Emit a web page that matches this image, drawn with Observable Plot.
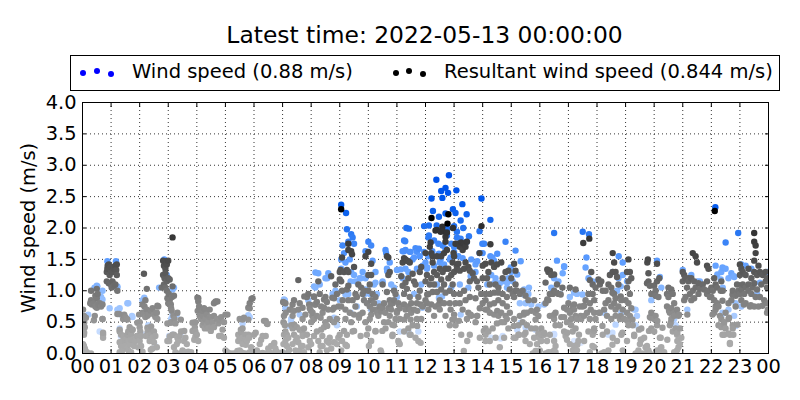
<!DOCTYPE html>
<html>
<head>
<meta charset="utf-8">
<script src="https://cdn.jsdelivr.net/npm/d3@7"></script>
<script src="https://cdn.jsdelivr.net/npm/@observablehq/plot@0.6"></script>
<style>
html,body{margin:0;padding:0;background:#fff;width:800px;height:400px;overflow:hidden;font-family:"DejaVu Sans",sans-serif;color:#000}
#head{position:relative;width:800px;height:92px}
#title{position:absolute;left:0;top:20px;width:849px;text-align:center;font-size:23.4px;line-height:30px;white-space:nowrap}
#box{position:absolute;left:70px;top:55px;width:708px;height:34px;border:1px solid #000;box-sizing:content-box}
.lab{position:absolute;top:59px;font-size:19.5px;line-height:26px;white-space:nowrap}
.d{position:absolute;width:6px;height:6px;border-radius:50%}
svg{display:block}
</style>
</head>
<body>
<div id="head"></div>
<div id="chart"></div>
<script>
const chartTitle = "Latest time: 2022-05-13 00:00:00";
const legendLabels = ["Wind speed (0.88 m/s)", "Resultant wind speed (0.844 m/s)"];
const hourTicks = d3.range(0, 25);
const speedTicks = [0, .5, 1, 1.5, 2, 2.5, 3, 3.5, 4];

// [hour of day, wind speed m/s]
const windSpeed = [
[.5,1.08],[.42,1.05],[.7,1.0],[.65,.9],[.95,.72],[1.22,1.07],[1.3,.72],[1.35,.62],[1.6,.8],[1.75,.58],[1.3,.4],[1.35,.2],[.2,.62],[.6,.35],
[2.1,.85],[2.35,.65],[2.3,.45],[2.15,.3],[2.55,.12],[2.95,1.25],[3.2,1.05],[3.1,.55],[3.15,.3],[3.3,.62],[5.85,.58],[5.6,.48],
[.52,1.07],[1.22,1.05],[1.22,.7],[1.57,.8],[1.73,.6],[2.16,.89],[2.22,.68],[3.15,1.02],[3.15,.61],[3.03,.28],[3.44,.28],[5.8,.61],[7.05,.86],[7.29,.52],[7.23,.44],[1.34,.28],[2.5,.3],[.7,.86],[2.68,1.05],[.87,1.47],[1.17,1.47],[2.86,1.5],
[7.08,.85],[7.1,.72],[7.3,.55],[7.6,.62],[7.9,.85],[8.15,1.05],[8.25,1.28],[8.3,1.1],[8.5,1.2],[8.6,1.28],[8.75,.95],[8.85,1.0],[9.0,.85],[8.9,.45],
[8.15,1.29],[8.56,1.2],[8.1,1.07],[9.38,1.15],[9.73,1.2],[10.49,1.13],[10.66,1.31],[11.13,1.34],[11.6,1.53],[12.06,1.37],[12.53,1.5],[12.88,1.53],[13.81,1.47],[14.34,1.53],[14.98,1.37],[15.21,1.26],[14.16,1.1],[14.51,1.1],[14.86,1.13],[15.33,1.47],[13.58,1.23],[15.62,1.05],[15.44,.94],[9.38,.65],[8.8,.57],[9.2,.94],[12.58,.91],[9.85,.94],[12.47,.89],[11.89,.73],[13.23,.62],[15.21,.38],[15.5,.41],[15.85,.38],[11.42,.33],[14.63,.24],[15.33,.49],
[9.05,2.37],[9.22,2.24],[9.25,1.98],[9.4,1.9],[9.45,1.85],[9.5,1.75],[9.1,1.72],[9.3,1.78],[9.9,1.63],[10.0,1.78],[10.1,1.72],[9.05,1.5],[9.2,1.45],[9.35,1.5],[9.15,1.6],[9.05,1.35],[9.4,1.3],[9.5,1.25],[9.7,1.2],[9.9,1.2],[10.15,1.48],[10.25,1.3],[9.8,1.3],[9.55,1.15],[9.3,.95],[9.6,.75],[9.9,1.02],[10.05,.95],[10.2,1.1],[10.25,1.13],[10.1,.7],[10.3,.95],[10.35,.8],
[10.5,1.15],[10.6,1.65],[10.62,1.6],[10.75,1.45],[10.65,1.35],[10.8,1.1],[10.9,1.05],[11.0,.9],[11.0,1.33],[11.33,2.0],[11.25,1.8],[11.2,1.63],[11.3,1.65],[11.45,1.62],[11.65,1.68],[11.7,1.62],[11.55,1.5],[11.7,1.35],[11.8,1.55],[11.3,1.35],[11.4,1.3],[11.9,1.4],[11.2,1.2],[11.6,.95],[11.85,1.1],[11.1,.35],[11.75,.35],
[12.38,2.77],[12.82,2.84],[12.7,2.64],[12.55,2.59],[12.79,2.56],[13.08,2.6],[12.21,2.47],[12.59,2.48],[13.96,2.47],[13.29,2.38],[12.96,2.3],[13.05,2.24],[13.44,2.22],[12.26,2.27],[12.47,2.18],[12.7,2.23],[13.23,2.12],[14.27,2.13],[11.42,1.99],[11.95,2.03],[12.12,2.04],[12.39,2.04],[13.0,2.03],[13.32,2.0],[11.29,1.79],[13.89,1.95],[13.52,1.87],[14.8,1.78],[14.51,1.59],[15.15,1.64],[13.23,1.83],[13.44,1.78],[13.89,1.6],[14.27,1.55],[13.99,1.75],[11.95,1.62],[12.24,1.63],[12.47,1.59],[12.7,1.67],[13,1.62],[11.77,1.67],[11.25,1.63],[11.48,1.62],[12.12,1.88],[13.1,1.94],[12.76,1.99],
[12.1,1.85],[12.3,1.8],[12.45,1.75],[12.6,1.72],[12.75,1.88],[12.9,1.75],[13.1,1.85],[12.0,1.45],[12.1,1.55],[12.3,1.4],[12.5,1.45],[12.65,1.42],[12.85,1.5],[13.0,1.7],[13.15,1.55],[13.3,1.52],[13.6,1.5],[13.75,1.42],[12.05,1.35],[12.4,1.1],[12.9,1.05],[13.2,1.1],[13.5,1.05],
[14.05,1.75],[14.0,1.6],[14.4,1.48],[13.75,1.3],[14.3,1.25],[14.45,1.2],[14.6,1.12],[14.4,1.12],[14.75,1.15],[14.9,1.2],[15.0,1.3],[14.85,1.05],[15.05,1.15],[15.45,1.02],[15.5,.8],[15.3,.8],[15.7,.78],[15.95,.75],[15.6,.95],[14.3,.25],[14.7,.28],
[16.1,.3],[16.5,.3],[16.5,1.92],[16.6,1.48],[16.85,1.38],[16.8,1.28],[16.5,1.2],[16.4,1.05],[16.65,1.15],[17.05,.9],[17.3,.95],[17.2,.2],[16.7,.95],[17.63,1.53],[17.5,1.94],[17.72,1.9],[17.6,1.37],[17.85,1.15],[17.7,1.2],[18.25,.65],[18.4,.3],
[18.65,.46],[18.54,.33],[16.5,.31],[17.43,.17],[19.18,.57],[19.35,.7],[21.16,.7],[22.85,.44],[17.2,.97],[17.49,.94],[16.15,.78],[18.83,1.07],[16.85,1.39],[22.79,1.23],[22.33,1.18],[22.39,.65],[22.21,1.26],[22.39,1.37],[21.51,1.15],[23.7,1.13],
[18.55,1.3],[18.76,1.55],[18.9,1.45],[18.75,1.2],[18.9,1.25],[18.7,1.0],[18.85,.65],[19.05,1.15],[19.3,.7],[19.4,.6],[19.35,.45],[20.1,1.48],[20.2,1.22],[20.25,1.05],[19.9,.85],[20.7,.55],[20.75,.45],
[21.0,1.33],[21.3,1.25],[21.6,1.15],[22.14,2.33],[22.5,1.77],[22.94,1.92],[22.15,1.4],[22.5,1.35],[22.35,1.3],[22.6,1.2],[22.4,1.05],[22.7,1.28],[22.8,1.22],[22.6,.7],[22.8,.6],[22.35,.6],[22.85,.8],[23.05,1.42],[23.2,1.4],[23.4,1.35],[23.95,1.3],[23.6,.95],[23.05,.75]
];

// [hour of day, resultant wind speed m/s]
const resultantSpeed = [
[.02,.7],[.05,.6],[.03,.55],[.06,.5],[.02,.45],[.08,.42],[.03,.35],[.05,.3],[.02,.15],[.05,.12],[.08,.08],[.1,.05],[.15,.02],[.2,0],[.3,0],[.03,0],[.3,1.0],[.5,1.03],[.53,.95],[.45,.92],[.3,.85],[.27,.8],[.33,.78],[.4,.8],[.45,.75],[.5,.73],[.55,.78],[.6,.8],[.65,.75],[.7,.78],[.43,.6],[.4,.53],[.5,.88],[.7,.55],[.72,.3],[.72,.25],
[.85,1.3],[.88,1.4],[.92,1.42],[.87,1.35],[.85,1.15],[.92,1.12],[.95,1.25],[1.0,1.3],[1.0,1.1],[1.05,1.15],[1.02,1.05],[1.05,1.3],[1.1,1.35],[1.15,1.4],[1.2,1.42],[1.18,1.33],[1.2,1.25],[1.15,1.1],[1.1,1.08],[1.22,1.0],[.95,1.36],[1.0,1.38],
[1.28,.63],[1.3,.35],[1.35,.3],[1.3,.18],[1.35,.12],[1.4,.05],[1.3,.02],[1.42,.55],[1.45,.6],[1.5,.58],[1.55,.55],[1.55,.25],[1.5,.22],[1.45,.28],[1.4,.2],[1.6,.2],[1.65,.15],[1.6,.35],[1.7,.3],[1.65,.42],[1.75,.38],[1.5,.12],[1.6,.05],[1.7,.02],[1.8,.12],[1.85,.2],[1.9,.28],[1.95,.1],[1.75,.22],
[.12,.57],[.06,.33],[.72,.33],[.7,.55],[1.22,.63],[1.46,.62],[1.57,.54],[1.3,.38],[1.75,.38],[1.57,.3],[1.34,.17],[1.69,.22],[1.57,.09],[1.98,.62],[2.1,.78],[2.27,.6],[2.39,.68],[2.62,.76],[2.57,.65],[1.92,.49],[2.27,.41],[2.45,.3],[2.22,.28],[1.98,.28],[2.39,.06],[3.09,.78],[3.09,.49],[3.32,.65],[3.44,.54],[3.56,.36],[3.32,.25],[3.03,.2],[3.2,.3],[3.85,.49],[3.85,.36],[3.91,.22],[4.02,.89],[4.08,.7],[4.66,.83],[4.6,.8],[4.49,.36],[4.78,.28],[5.07,.62],[5.6,.54],[5.8,.73],[5.91,.87],[5.8,.54],[5.54,.38],[5.6,.25],[5.83,.25],[6.06,.33],[5.71,.14],[5.42,.04],[6.41,.52],[6.47,.47],[6.41,.28],[6.71,.17],[7.05,.81],[7.11,.65],[7.05,.3],[7.29,.7],[7.41,.46],[7.76,.91],[7.7,.73],[7.93,.78],[7.7,.33],[7.46,.2],[7.7,.12],[7.23,.06],[7.99,.68],
[2.0,.5],[2.0,.42],[2.02,.35],[2.05,.28],[2.0,.2],[2.05,.12],[2.1,.03],[2.15,.62],[2.1,.65],[2.2,.58],[2.17,.75],[2.15,1.27],[2.25,1.03],[2.2,.85],[2.25,.7],[2.3,.62],[2.28,.35],[2.3,.28],[2.35,.2],[2.4,.3],[2.45,.25],[2.5,.18],[2.5,.35],[2.4,.43],[2.35,.38],[2.45,.72],[2.5,.62],[2.55,.58],[2.6,.65],[2.62,.55],[2.65,.75],[2.55,.28],[2.6,.1],[2.45,.08],
[2.77,1.05],[2.82,1.48],[2.88,1.47],[2.95,1.42],[3.0,1.48],[2.85,1.4],[2.9,1.35],[2.9,1.28],[2.87,1.2],[2.82,1.25],[2.85,1.1],[2.95,1.15],[3.0,1.2],[3.05,1.18],[2.9,1.05],[2.95,1.0],[3.15,1.07],[3.15,1.85],[2.97,.88],[3.02,.95],[3.05,.85],[3.13,.9],[3.2,.92],[3.0,.8],[3.05,.78],[3.1,.72],[3.12,.68],[3.18,.6],[3.22,.55],[3.25,.48],[2.97,.48],[3.1,.5],[3.15,.3],[3.05,.27],[2.97,.2],[3.2,.1],[3.3,.15],[3.35,.2],[3.4,.28],[3.45,.35],[3.25,.02],[3.4,0],[3.5,.05],[3.6,.02],[3.7,.03],[3.8,.02],[3.55,.2],[3.6,.25],[3.65,.15],
[3.95,.5],[3.93,.42],[3.95,.35],[3.95,.27],[4.0,.3],[4.05,.2],[4.05,.88],[4.05,.83],[4.08,.75],[4.03,.68],[4.1,.6],[4.15,.55],[4.2,.6],[4.2,.68],[4.25,.72],[4.3,.7],[4.35,.62],[4.3,.55],[4.25,.5],[4.2,.45],[4.35,.45],[4.4,.5],[4.45,.58],[4.45,.7],[4.5,.58],[4.55,.5],[4.5,.42],[4.6,.42],[4.65,.82],[4.72,.83],[4.7,.55],[4.75,.48],[4.8,.53],[4.85,.58],[4.95,.5],[4.9,.38],[4.85,.28],[5.0,.62],[4.95,.25],[4.6,.6],[4.4,.4],[4.28,.4],
[5.0,.05],[5.05,.03],[5.1,.01],[5.2,0],[5.3,0],[5.35,0],[5.45,.2],[5.5,.27],[5.45,.3],[5.5,.55],[5.65,.57],[5.6,.4],[5.55,.33],[5.7,.3],[5.75,.2],[5.6,.15],[5.55,.22],[5.7,.22],[5.8,.3],[5.5,.05],[5.55,.02],[5.6,.01],[5.7,0],[5.85,.72],[5.85,.8],[5.95,.88],[5.85,.02],[5.95,0],[5.9,.1],[6.0,.3],
[6.05,.02],[6.1,.05],[6.2,.15],[6.25,.22],[6.3,.28],[6.35,.52],[6.45,.48],[6.1,0],[6.2,0],[6.3,.01],[6.4,0],[6.5,.08],[6.6,.12],[6.7,.15],[6.75,.08],[6.55,.02],[6.65,0],[6.8,.03],[6.9,0],[7.0,.02],
[7.02,.82],[7.1,.8],[7.05,.6],[7.03,.5],[7.08,.45],[7.1,.35],[7.15,.3],[7.2,.25],[7.1,.2],[7.03,.15],[7.15,.12],[7.22,.05],[7.05,0],[7.55,1.17],[7.6,.8],[7.4,.85],[7.35,.78],[7.25,.7],[7.35,.6],[7.4,.68],[7.55,.7],[7.3,.45],[7.35,.4],[7.4,.3],[7.5,.42],[7.5,.25],[7.55,.18],[7.6,.38],[7.65,.12],[7.7,.28],[7.75,.4],[7.7,.55],[7.8,.62],[7.85,.9],[7.9,.95],[7.95,.72],[7.85,.3],[7.95,.2],[7.9,.1],[7.75,.02],[7.6,.05],[7.35,.15],[7.45,.05],
[8.1,.9],[8.13,.78],[8.05,.65],[8.0,.5],[8.1,.55],[8.2,.82],[8.2,.6],[8.25,1.15],[8.3,.95],[8.35,.75],[8.4,.65],[8.5,.9],[8.55,.82],[8.6,.7],[8.7,1.23],[8.75,.7],[8.8,.88],[8.85,1.1],[8.9,.95],[8.95,.75],[8.9,.55],[8.8,.5],[8.65,.55],[8.5,.5],[8.45,.42],[8.35,.38],[8.2,.35],[8.25,.2],[8.1,.28],[8.0,.15],[8.4,.12],[8.55,.2],[8.65,.25],[8.8,.18],[8.9,.15],[8.95,.25],[8.7,.08],[8.55,.05],[8.3,.02],
[8.1,.91],[8.45,.86],[8.74,.89],[8.15,.78],[8.45,.73],[8.8,.73],[9.2,.7],[9.5,.62],[9.67,.57],[8.33,.57],[8.04,.6],[8.56,.44],[9.15,.36],[9.73,.28],[9.5,.36],[8.39,.28],[8.62,.17],[9.2,.14],[8.33,.12],[10.02,.12],[10.43,.05],[10.25,.36],[10.84,.28],[11.07,.17],[11.48,.3],[11.83,.17],[11.71,.44],[11.25,.54],[11.48,.54],[10.84,.46],[10.49,.36],[10.31,.65],[10.49,.73],[10.78,.78],[11.01,.68],[11.25,.78],[11.48,.7],[11.83,.78],[11.71,.68],[12.06,.94],[12.47,.78],[12.88,.7],[12.94,.54],[13.17,.52],[13.46,.2],[13.34,.04],[14.04,.36],[14.1,.2],[13.58,.62],[13.81,.6],[14.16,.7],[14.51,.68],[15.09,.44],[15.27,.3],[15.09,.25],[15.44,.62],[15.85,.54],[15.85,.04],[15.5,.33],[16.03,.22],
[9.05,2.3],[9.03,1.33],[9.0,1.18],[9.05,1.15],[9.0,1.3],[9.08,1.53],[9.08,1.0],[9.15,1.3],[9.1,.85],[9.05,.75],[9.25,1.33],[9.3,1.3],[9.3,1.75],[9.3,1.65],[9.4,1.63],[9.43,1.58],[9.3,1.08],[9.25,1.02],[9.3,.85],[9.35,.65],[9.4,.5],[9.2,.55],[9.25,.3],[9.45,.35],[9.5,1.38],[9.45,.85],[9.55,.95],[9.6,.9],[9.55,.75],[9.65,1.1],[9.75,1.05],[9.8,.95],[9.7,.62],[9.8,.65],[9.85,.85],[9.9,1.55],[9.85,1.0],[9.95,.8],[9.9,.5],[9.05,.05],[9.0,.3],[9.08,.2],[9.25,.12],
[10.0,1.62],[10.1,1.43],[10.0,1.25],[10.1,1.25],[10.05,1.1],[10.0,1.0],[10.15,.95],[10.1,.85],[10.05,.75],[10.2,.8],[10.15,.7],[10.1,.62],[10.25,.9],[10.05,.55],[10.0,.4],[9.95,.3],[10.1,.2],[10.25,.35],[10.3,.7],[10.35,.6],[10.4,.75],[10.45,.67],[10.5,1.1],[10.55,.8],[10.6,.65],[10.65,1.55],[10.7,1.53],[10.7,1.25],[10.75,1.3],[10.65,.98],[10.7,.72],[10.75,.85],[10.8,.7],[10.85,.8],[10.9,.85],[10.6,.4],[10.55,.5],[10.7,.5],[10.75,.6],[10.9,1.0],[10.95,.95],[10.85,.3],[10.45,.02],[10.9,.45],[10.95,.55],
[11.0,.65],[11.05,.8],[11.1,.72],[11.1,.55],[11.05,.2],[11.1,.15],[11.15,1.23],[11.2,1.45],[11.25,1.52],[11.3,1.5],[11.35,1.48],[11.4,1.47],[11.45,1.45],[11.2,1.08],[11.25,.95],[11.3,1.13],[11.35,1.03],[11.4,1.2],[11.45,.9],[11.55,1.27],[11.6,1.15],[11.65,1.1],[11.5,.8],[11.3,.7],[11.35,.6],[11.4,.75],[11.5,.65],[11.6,.7],[11.7,.8],[11.75,.9],[11.8,1.0],[11.8,1.3],[11.85,1.38],[11.7,.55],[11.85,.55],[11.9,.75],[11.25,.35],[11.4,.4],[11.45,.3],[11.55,.45],[11.65,.25],[11.75,.2],
[12.21,2.16],[12.8,2.22],[12.77,2.07],[12.96,2.0],[12.59,2.02],[13.96,2.03],[12.35,1.96],[12.53,1.94],[12.7,1.86],[12.4,1.97],[12.6,1.95],[12.75,1.93],[12.7,1.78],[12.18,1.77],[13.05,1.75],[12.15,1.7],[12.0,1.6],[12.2,1.6],[12.25,1.55],[12.25,1.45],[12.4,1.55],[12.55,1.55],[12.65,1.6],[12.75,1.65],[12.98,1.6],[13.0,1.55],[12.95,1.45],[13.1,1.42],[13.15,1.43],[13.2,1.7],[13.25,1.77],[13.35,1.75],[13.3,1.65],[13.15,1.75],[13.45,1.78],[13.4,1.7],[13.4,1.45],[13.35,1.35],[13.5,1.38],[13.55,1.32],[13.65,1.28],[13.55,1.15],[13.7,1.2],[13.8,1.15],[13.85,1.05],[14.0,1.2],[14.0,1.4],[13.89,1.6],[14.27,1.74],
[12.0,1.15],[12.05,1.25],[12.15,1.1],[12.2,1.2],[12.3,1.3],[12.4,1.25],[12.5,1.35],[12.6,1.3],[12.7,1.35],[12.8,1.35],[12.9,1.25],[13.0,1.3],[13.1,1.35],[13.2,1.32],[12.3,1.1],[12.55,1.18],[12.65,1.1],[12.8,1.2],[12.95,1.1],[12.0,.85],[12.1,.95],[12.25,.98],[12.4,.98],[12.55,1.02],[12.7,.97],[12.85,1.0],[13.0,.95],[13.2,.95],[13.35,1.0],[12.05,.8],[12.2,.78],[12.35,.75],[12.5,.85],[12.65,.8],[12.85,.8],[13.05,.8],[13.2,.8],[13.4,.85],[13.55,.9],[13.75,.88],[13.95,.95],[14.0,.8],[12.1,.7],[12.3,.6],[12.5,.7],[12.7,.6],[13.0,.62],[13.0,.55],[13.3,.7],[13.5,.65],[13.6,.6],[13.8,.6],[13.9,.72],[13.05,.45],[13.25,.3],[13.55,.3],[13.9,.25],[13.45,.55],[13.75,.5],[12.85,.45],
[14.1,1.43],[14.2,1.3],[14.3,1.45],[14.4,1.38],[14.5,1.42],[14.65,1.45],[14.7,1.2],[14.8,1.3],[14.9,1.32],[14.95,1.02],[14.15,1.2],[14.25,1.1],[14.45,1.1],[14.55,1.05],[15.05,.95],[15.1,.9],[15.15,1.0],[14.1,.95],[14.25,.95],[14.4,.97],[14.55,.97],[14.7,.95],[14.85,.9],[14.1,.85],[14.25,.78],[14.4,.8],[14.55,.85],[14.7,.8],[14.85,.75],[14.95,.65],[14.1,.7],[14.25,.65],[14.4,.62],[14.55,.6],[14.65,.65],[14.8,.6],[14.5,.48],[14.65,.5],[14.85,.55],[14.1,.4],[14.2,.35],[14.35,.4],[14.45,.25],[14.1,.3],[14.25,.2],[14.6,.1],[14.75,.5],[14.9,.4],[14.75,.25],
[15.0,1.2],[15.1,1.43],[15.15,1.32],[15.2,1.0],[15.15,1.1],[15.3,.95],[15.4,1.0],[15.5,.92],[15.6,.85],[15.8,.85],[15.9,.7],[15.1,.55],[15.3,.6],[15.45,.65],[15.55,.65],[15.7,.68],[15.85,.65],[15.95,.6],[15.25,.45],[15.4,.5],[15.55,.45],[15.25,.3],[15.15,.25],[15.45,.3],[15.5,.2],[15.7,.4],[15.85,.4],[15.95,.32],[15.8,.25],[15.65,.15],[15.9,.15],[16.0,.05],[15.75,0],
[16.05,.4],[16.05,.3],[16.05,.2],[16.0,.25],[16.2,.8],[16.3,.85],[16.35,.6],[16.45,.6],[16.5,.55],[16.55,.45],[16.55,.65],[16.3,1.3],[16.35,1.32],[16.4,1.25],[16.5,1.0],[16.6,1.1],[16.45,.95],[16.35,.95],[16.65,.95],[16.75,.58],[16.85,.58],[16.7,.45],[16.85,.35],[16.9,.28],[16.95,.5],[16.95,.7],[16.95,.22],[16.2,0],[16.3,.02],[16.4,.02],[16.5,.05],[16.55,.12],[16.55,.02],[16.25,.2],[16.35,.3],[16.15,.3],
[16.26,1.34],[16.5,1.26],[16.2,1.13],[16.79,1.05],[17.25,1.02],[16.73,.94],[16.55,.97],[16.26,.86],[16.85,.73],[16.5,.62],[17.2,.78],[17.08,.68],[17.55,.76],[17.78,.7],[17.43,.6],[18.07,.65],[16.15,.33],[16.5,.2],[16.96,.33],[17.37,.3],[17.31,.14],[17.84,.12],[17.9,.36],[18.19,.44],[18.54,.14],[18.89,.33],[18.54,.97],[18.83,.91],[18.65,.7],[18.83,.6],[19.06,.52],[19.24,.54],[19.47,.38],[19.53,.22],[19.3,.28],[19.88,.57],[20.11,.52],[20.29,.41],[19.82,.36],[20.23,.25],[20.58,.49],[20.81,.33],[20.46,.22],[20.81,.2],[20.7,.65],[21.16,.62],[20.87,.62],[20.52,.68],[20.23,.09],[22.04,.62],[22.15,.7],[22.39,.84],[22.33,1.0],[22.74,.94],[22.39,.3],[22.77,.3],[22.65,.17],[22.91,.46],[22.44,.46],[22.62,.57],[23.14,.78],[23.38,.77],[23.79,.76],
[17.05,1.05],[17.0,.8],[17.05,.65],[17.15,.75],[17.1,.55],[17.2,.7],[17.25,.6],[17.3,.55],[17.1,.45],[17.15,.35],[17.25,.4],[17.05,.15],[17.2,.12],[17.35,.2],[17.3,.05],[17.15,.05],[17.4,.75],[17.5,.75],[17.6,.85],[17.55,.6],[17.65,.65],[17.45,.55],[17.52,1.76],[17.73,1.83],[17.8,1.3],[17.75,1.17],[17.85,1.1],[17.95,1.05],[17.85,.95],[17.7,.95],[17.75,.8],[17.9,.85],[17.9,.65],[17.75,.55],[17.95,.55],[17.9,.4],[17.7,.35],[17.85,.3],[17.9,.1],[17.75,.02],[17.55,.2],
[18.05,1.18],[18.1,1.1],[18.15,1.15],[18.2,1.0],[18.3,1.0],[18.4,1.1],[18.45,1.25],[18.55,1.3],[18.55,1.6],[18.6,1.45],[18.65,1.3],[18.7,1.22],[18.75,1.1],[18.85,.85],[18.5,1.05],[18.6,.95],[18.65,.88],[18.3,.8],[18.4,.85],[18.5,.75],[18.6,.8],[18.75,.75],[18.9,.7],[18.95,.55],[18.1,.65],[18.25,.7],[18.35,.6],[18.5,.55],[18.65,.6],[18.8,.55],[18.2,.3],[18.35,.35],[18.55,.25],[18.7,.2],[18.85,.3],[18.9,.05],[18.4,.05],[18.25,.02],[18.15,0],
[19.1,1.5],[19.05,1.3],[19.15,1.3],[19.1,1.15],[19.2,1.2],[19.05,1.05],[19.15,.95],[19.0,.85],[19.1,.8],[19.2,.72],[19.05,.65],[19.15,.6],[19.1,.45],[19.25,.45],[19.05,.2],[19.35,0],[19.45,.05],[19.5,.15],[19.55,.22],[19.65,.25],[19.7,.1],[19.75,.02],[19.85,0],[19.6,0],[19.55,.4],[19.75,.12],[19.8,.05],[19.3,.3],
[19.78,1.5],[19.76,1.45],[20.1,1.43],[19.8,1.28],[19.8,1.15],[19.75,1.12],[19.85,1.08],[20.0,1.08],[20.05,1.0],[20.1,1.15],[20.18,1.2],[19.9,.95],[20.0,.95],[20.05,.92],[20.15,.9],[19.9,.65],[20.0,.55],[19.85,.58],[20.05,.6],[20.1,.45],[20.0,.35],[19.9,.4],[20.2,.25],[20.25,.1],[20.35,.02],[20.1,.05],[20.25,0],
[20.5,1.05],[20.45,.95],[20.5,.9],[20.6,1.02],[20.65,.95],[20.45,.75],[20.55,.65],[20.7,.8],[20.6,.72],[20.8,.7],[20.7,.6],[20.85,.6],[20.6,.55],[20.55,.45],[20.75,.4],[20.9,.4],[20.65,.35],[20.8,.3],[20.95,.25],[20.9,.15],[20.8,.05],[20.7,.02],[20.85,.1],
[21.0,1.3],[21.05,1.25],[21.0,1.15],[21.1,1.2],[21.2,1.2],[21.35,1.6],[21.45,1.55],[21.5,1.45],[21.15,1.05],[21.2,1.15],[21.3,1.2],[21.4,1.15],[21.45,1.05],[21.55,1.12],[21.6,1.03],[21.7,1.1],[21.75,1.02],[21.85,1.15],[21.85,1.4],[21.9,1.35],[21.9,1.0],[22.0,1.05],[21.35,1.0],[21.25,.95],[21.1,.9],[21.05,.85],[21.3,.85],[21.4,.88],[21.55,.95],[21.85,.95],[21.95,.9],
[22.12,2.27],[22.1,1.2],[22.15,1.1],[22.05,1.0],[22.2,1.05],[22.35,1.15],[22.4,1.0],[22.0,.9],[22.1,.85],[22.2,.8],[22.15,.75],[22.25,.75],[22.1,.65],[22.3,.6],[22.35,.55],[22.45,.5],[22.25,.45],[22.35,.42],[22.45,.3],[22.5,.4],[22.6,.32],[22.6,.55],[22.65,.3],[22.75,.45],[22.75,.4],[22.5,.65],[22.6,.8],[22.7,.85],[22.85,.92],[22.9,.95],[22.75,1.0],[22.9,1.1],[22.95,1.0],[22.85,.75],[22.65,.15],
[23.5,1.92],[23.5,1.78],[23.55,1.72],[23.55,1.6],[23.5,1.48],[23.65,1.4],[23.0,1.42],[23.05,1.35],[23.1,1.3],[23.2,1.25],[23.3,1.35],[23.4,1.2],[23.5,1.3],[23.6,1.25],[23.7,1.3],[23.8,1.25],[23.9,1.3],[23.95,1.2],[23.0,1.25],[23.1,1.1],[23.2,1.05],[23.3,1.1],[23.45,1.05],[23.5,1.12],[23.6,1.02],[23.75,1.1],[23.9,1.15],[23.95,1.05],[23.0,.95],[23.05,1.02],[23.15,.95],[23.3,1.0],[23.4,.95],[23.55,.9],[23.7,.9],[23.85,.85],[23.05,.85],[23.2,.8],[23.35,.75],[23.5,.75],[23.65,.75],[23.95,.8],[23.98,.7],[23.95,.65]
];

// Both series fade with the value they plot
const windRamp = d3.scaleLinear().domain([0, .2, .6, 1, 1.5, 2, 2.4, 2.85]).range(["#e0ebff","#d8e6ff","#a8caff","#88b8ff","#5a9bff","#2070f0","#0058ec","#0050e8"]).clamp(true);
const resultantRamp = d3.scaleLinear().domain([0, .25, .5, .75, 1, 1.25, 1.45, 2.03, 2.07]).range(["#acacac","#a8a8a8","#969696","#858585","#747474","#5c5c5c","#4c4c4c","#2e2e2e","#000000"]).clamp(true);

const head = d3.select("#head");
head.append("div").attr("id","title").text(chartTitle);
head.append("div").attr("id","box");
head.append("div").attr("class","lab").style("left","132px").text(legendLabels[0]);
head.append("div").attr("class","lab").style("left","444px").text(legendLabels[1]);
[[80,69.7,"#0000ff"],[94,68,"#0000ff"],[107.5,70.7,"#0000ff"],[392.7,69.7,"#000"],[406,68,"#000"],[420,70.7,"#000"]].forEach(([l,t,c])=>{
  head.append("div").attr("class","d").style("left",l+"px").style("top",t+"px").style("background",c);
});

const dotted = {stroke:"#000", strokeOpacity:1, strokeWidth:.8, strokeDasharray:"1,3"};
const noLabel = () => "";
const chart = Plot.plot({
  width: 800, height: 308,
  marginTop: 10, marginBottom: 47, marginLeft: 82, marginRight: 32,
  style: {fontFamily:'"DejaVu Sans",sans-serif', fontSize:"19.4px", color:"#000", background:"#fff"},
  x: {domain:[0,24]},
  y: {domain:[0,4]},
  marks: [
    Plot.gridX(hourTicks, dotted),
    Plot.gridY(speedTicks, dotted),
    Plot.dot(d3.sort(windSpeed, d=>d[0]), {x:d=>d[0], y:d=>d[1], r:3.2, fill:d=>windRamp(d[1]), clip:true}),
    Plot.dot(d3.sort(resultantSpeed, d=>d[0]), {x:d=>d[0], y:d=>d[1], r:3.2, fill:d=>resultantRamp(d[1]), clip:true}),
    Plot.frame({stroke:"#000", strokeWidth:1}),
    Plot.axisX(hourTicks, {anchor:"bottom", tickSize:-4, tickPadding:10, tickFormat:d=>d3.format("02")(d%24), label:null, stroke:"#000"}),
    Plot.axisX(hourTicks, {anchor:"top", tickSize:-4, tickFormat:noLabel, label:null, stroke:"#000"}),
    Plot.axisY(speedTicks, {anchor:"left", tickSize:-4, tickPadding:10, tickFormat:d3.format(".1f"), label:"Wind speed (m/s)", labelAnchor:"center", labelArrow:"none", labelOffset:61, stroke:"#000"}),
    Plot.axisY(speedTicks, {anchor:"right", tickSize:-4, tickFormat:noLabel, label:null, stroke:"#000"})
  ]
});
document.getElementById("chart").appendChild(chart);
</script>
</body>
</html>
